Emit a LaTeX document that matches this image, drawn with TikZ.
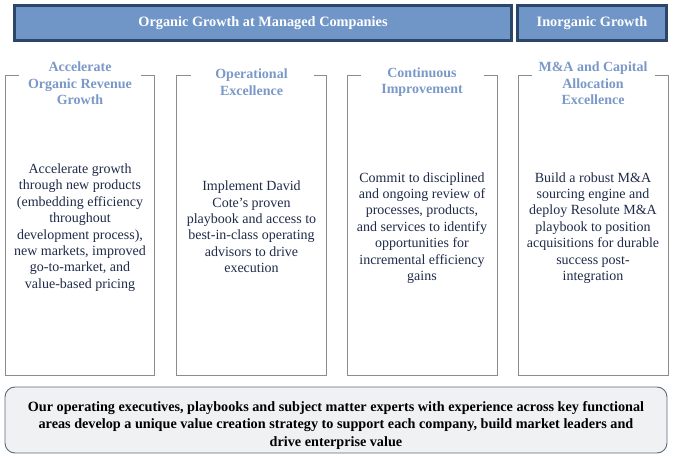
\documentclass[tikz,border=0pt]{standalone}
\usepackage{fontspec}
\setmainfont{Liberation Serif}
\usetikzlibrary{calc}
\definecolor{banner-blue}{RGB}{112,150,200}
\definecolor{banner-edge}{RGB}{44,70,106}
\definecolor{title-blue}{RGB}{122,152,200}
\definecolor{body-navy}{RGB}{30,42,72}
\definecolor{frame-gray}{RGB}{140,140,140}
\definecolor{base-fill}{RGB}{240,241,243}
\definecolor{base-edge}{RGB}{95,105,125}

\begin{document}
\begin{tikzpicture}[x=1pt,y=-1pt,
		banner/.style={draw=banner-edge,fill=banner-blue,line width=3pt,inner sep=0pt,
			minimum height=35pt,text=white,font=\fontsize{14.3}{16}\selectfont\bfseries},
		frame/.style={draw=frame-gray,line width=0.8pt},
		pillartitle/.style={text=title-blue,align=center,
			font=\fontsize{14}{16.5}\selectfont\bfseries},
		pillartext/.style={text=body-navy,align=center,
			font=\fontsize{14}{16.4}\selectfont}
	]
		\useasboundingbox (0,0) rectangle (673,460);

		% Banners on top
		\node[banner,minimum width=497pt] (organic) at (263,23) {Organic Growth at Managed Companies};
		\node[banner,minimum width=149pt] (inorganic) at (592,23) {Inorganic Growth};

		% Frames with a gap for the titles
		\draw[frame] (19,75) -- (5,75) -- (5,375) -- (154,375) -- (154,75) -- (141,75);
		\draw[frame] (190.5,75) -- (176.5,75) -- (176.5,375) -- (326.5,375) -- (326.5,75) -- (313.5,75);
		\draw[frame] (361,75) -- (347,75) -- (347,375) -- (497,375) -- (497,75) -- (484,75);
		\draw[frame] (532,75) -- (518,75) -- (518,375) -- (668,375) -- (668,75) -- (655,75);

		% Titles
		\node[pillartitle] (title-revenue) at (80,83.5) {Accelerate\\Organic Revenue\\Growth};
		\node[pillartitle] (title-operational) at (251.5,82) {Operational\\Excellence};
		\node[pillartitle] (title-continuous) at (422,82) {Continuous\\Improvement};
		\node[pillartitle] (title-capital) at (593,83.5) {M\&A and Capital\\Allocation\\Excellence};

		% Texts
		\node[pillartext] (text-revenue) at (80,227.5) {Accelerate growth\\through new products\\(embedding efficiency\\throughout\\development process),\\new markets, improved\\go-to-market, and\\value-based pricing};
		\node[pillartext] (text-operational) at (251.5,227) {Implement David\\Cote's proven\\playbook and access to\\best-in-class operating\\advisors to drive\\execution};
		\node[pillartext] (text-continuous) at (422,228) {Commit to disciplined\\and ongoing review of\\processes, products,\\and services to identify\\opportunities for\\incremental efficiency\\gains};
		\node[pillartext] (text-capital) at (593,228) {Build a robust M\&A\\sourcing engine and\\deploy Resolute M\&A\\playbook to position\\acquisitions for durable\\success post-\\integration};

		% Base
		\node[draw=base-edge,fill=base-fill,line width=0.9pt,rounded corners=10pt,
			minimum width=662pt,minimum height=66pt] (base) at (336,420) {};
		\node[text=black,align=center,font=\fontsize{14.2}{17.5}\selectfont\bfseries] (base-text) at (336,425.5)
			{Our operating executives, playbooks and subject matter experts with experience across key functional\\areas develop a unique value creation strategy to support each company, build market leaders and\\drive enterprise value};
	\end{tikzpicture}
\end{document}
